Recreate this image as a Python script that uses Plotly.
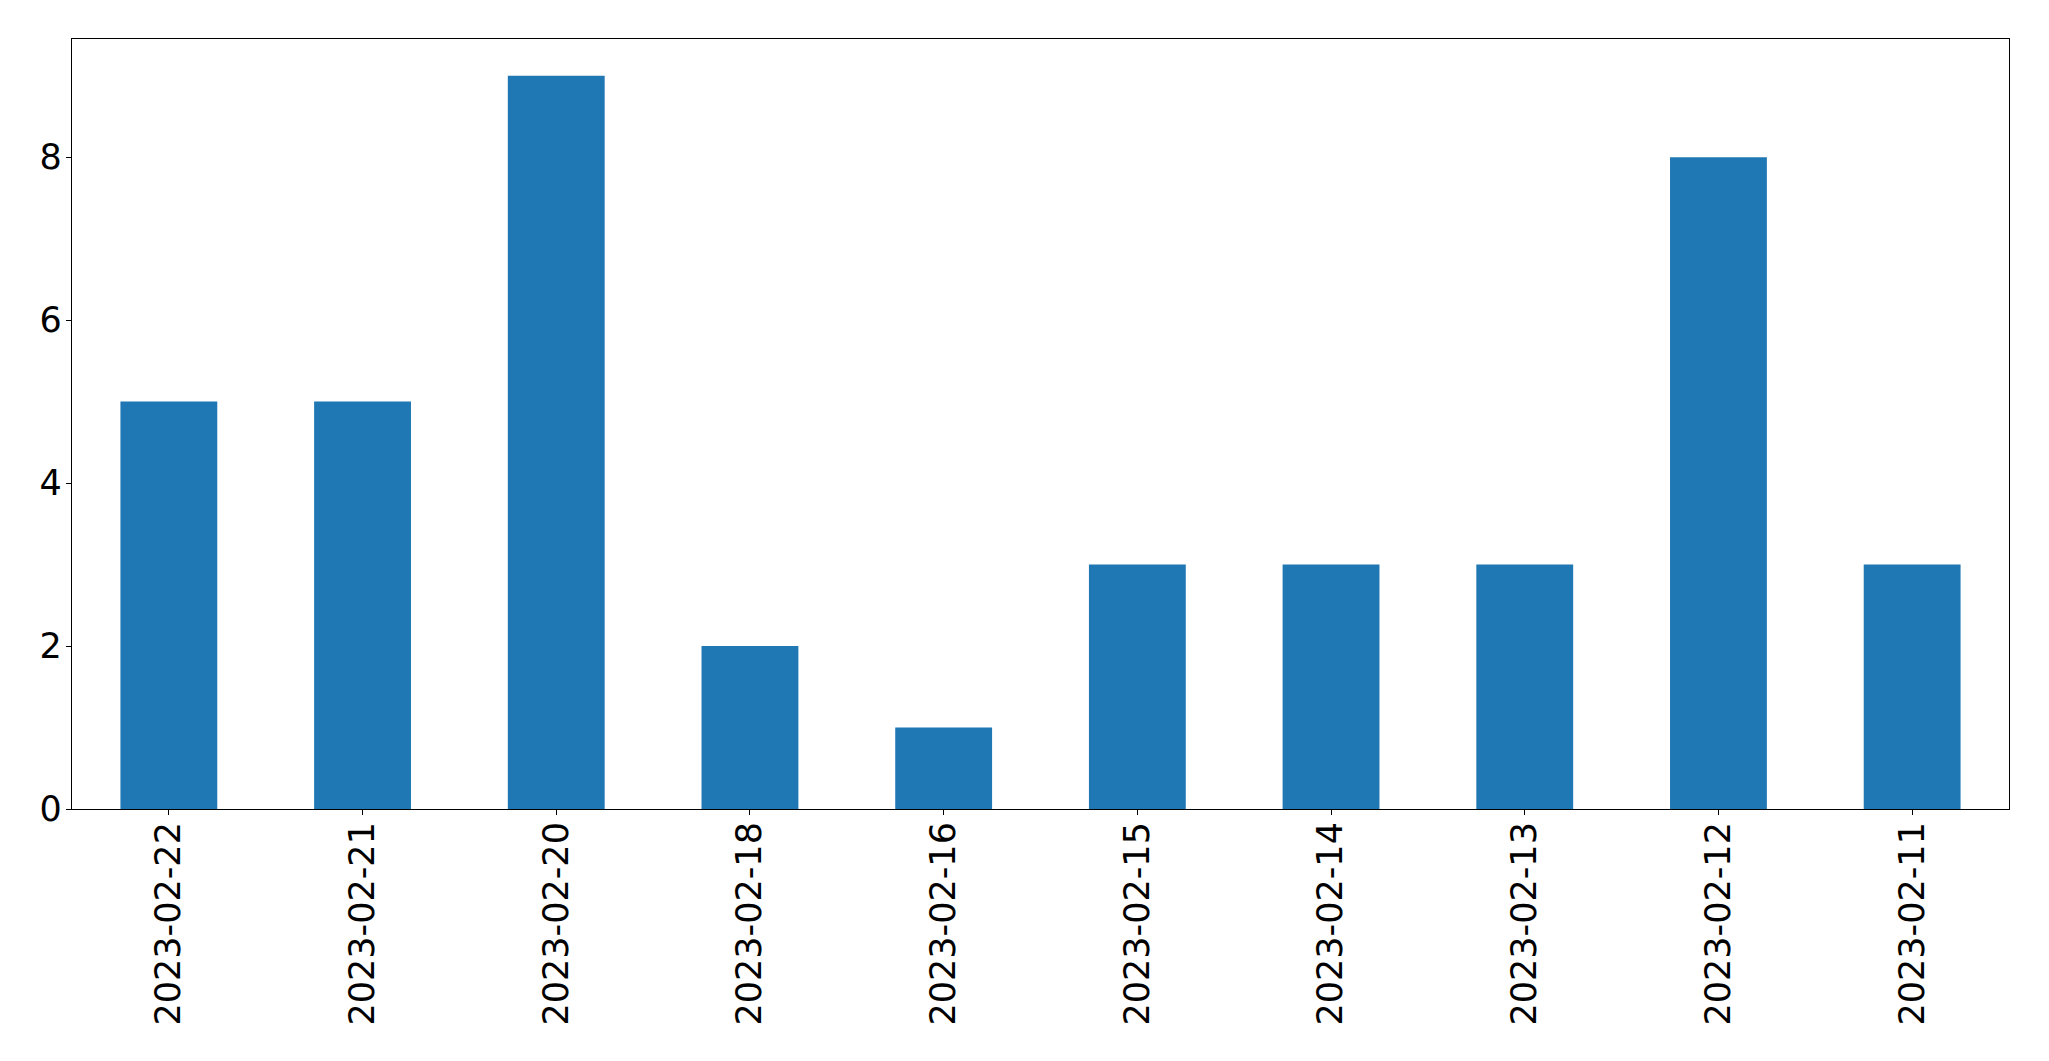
import plotly.graph_objects as go

dates = ["2023-02-22", "2023-02-21", "2023-02-20", "2023-02-18", "2023-02-16",
         "2023-02-15", "2023-02-14", "2023-02-13", "2023-02-12", "2023-02-11"]
counts = [5, 5, 9, 2, 1, 3, 3, 3, 8, 3]
y_ticks = [0, 2, 4, 6, 8]

fig = go.Figure(go.Bar(x=dates, y=counts, marker=dict(color="#1f77b4", line=dict(width=0))))

font = dict(family="DejaVu Sans", size=35, color="black")
# page body adds an 8px margin, so the figure is sized/offset to compensate
fig.update_layout(
    width=2033, height=1045,
    margin=dict(l=64, r=32, t=31, b=244, autoexpand=False),
    paper_bgcolor="white", plot_bgcolor="white",
    bargap=0.5, showlegend=False,
    font=font,
)
fig.update_xaxes(
    type="category", range=[-0.5, len(dates) - 0.5], automargin=False,
    showline=True, linecolor="black", linewidth=1.2, mirror=True,
    ticks="outside", ticklen=5, tickwidth=1.2, tickcolor="black",
    tickangle=-90, tickfont=font, showgrid=False, zeroline=False,
    ticklabelstandoff=-7,
)
fig.update_yaxes(
    range=[0, 9.45], tickvals=y_ticks, automargin=False,
    showline=True, linecolor="black", linewidth=1.2, mirror=True,
    ticks="outside", ticklen=5, tickwidth=1.2, tickcolor="black",
    tickfont=font, showgrid=False, zeroline=False,
    ticklabelstandoff=-3,
)
fig.write_html("out.html")
